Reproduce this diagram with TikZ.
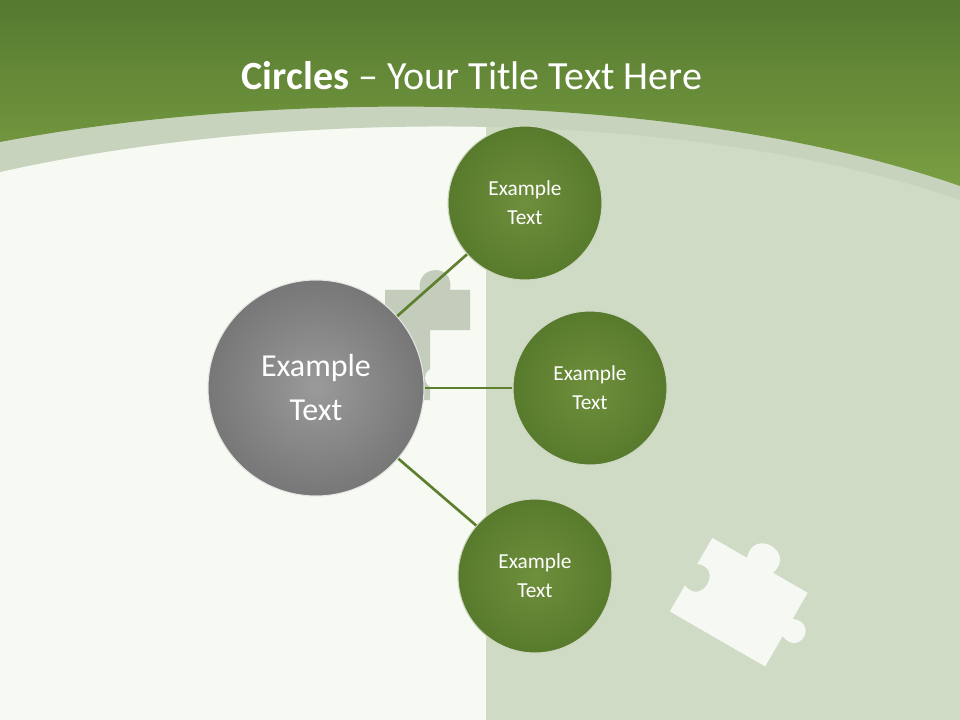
\documentclass[tikz,border=0pt]{standalone}
\usepackage{fontspec}
\setmainfont{Carlito}
\begin{document}
\begin{tikzpicture}[x=0.75pt,y=-0.75pt]
\definecolor{lp}{HTML}{F7F9F3}
\definecolor{rp}{HTML}{D0DBC6}
\definecolor{gtop}{HTML}{557A30}
\definecolor{gbot}{HTML}{7A9E42}
\definecolor{band}{HTML}{C8D3BE}
\definecolor{gin}{HTML}{6E8F3C}
\definecolor{gout}{HTML}{587A2C}
\definecolor{gyin}{HTML}{9A9A9A}
\definecolor{gyout}{HTML}{777777}
\definecolor{lnc}{HTML}{5E7F2E}
\tikzset{
  gc/.style={circle,minimum size=154*0.75pt,draw=white!70!gout,line width=0.8pt,
    shading=radial,inner color=gin,outer color=gout,
    text=white,font=\fontsize{16}{22}\selectfont,align=center},
  bigc/.style={circle,minimum size=216*0.75pt,draw=white!80!gray,line width=0.8pt,shading=radial,inner color=gyin,outer color=gyout,
    text=white,font=\fontsize{24}{33}\selectfont,align=center},
  conn/.style={draw=lnc,line width=2pt}}
\useasboundingbox (0,0) rectangle (960,720);
\fill[lp] (0,0) rectangle (960,720);
\fill[rp] (486,100) rectangle (960,720);
\fill[band] (0,172) .. controls (300,105) and (700,110) .. (960,200) -- (960,0) -- (0,0) -- cycle;
\shade[top color=gtop,bottom color=gbot] (0,142) .. controls (300,85) and (700,95) .. (960,186) -- (960,0) -- (0,0) -- cycle;
% puzzle shadows
\fill[rp!85!gray] (385,290) -- (420,290) .. controls (415,265) and (455,262) .. (450,290) -- (470,290) -- (470,330) -- (430,330) -- (430,400) -- (385,400) -- cycle;
\fill[lp] (435,378) circle (10);
\begin{scope}[shift={(740,600)},rotate=-30]
\fill[white!80!rp] (-55,-40) -- (-15,-40) .. controls (-25,-70) and (25,-70) .. (15,-40) -- (55,-40) -- (55,-10) .. controls (80,-20) and (80,20) .. (55,10) -- (55,45) -- (-55,45) -- (-55,15) .. controls (-30,25) and (-30,-20) .. (-55,-10) -- cycle;
\end{scope}
\node[text=white,font=\fontsize{30}{34}\selectfont] (title) at (472,76) {\textbf{Circles} -- Your Title Text Here};
\node[bigc] (c) at (316,388) {Example\\Text};
\node[gc] (a) at (525,203) {Example\\Text};
\node[gc] (b) at (590,388) {Example\\Text};
\node[gc] (d) at (535,576) {Example\\Text};
\draw[conn] (c) -- (a);
\draw[conn] (c) -- (b);
\draw[conn] (c) -- (d);
\end{tikzpicture}
\end{document}
